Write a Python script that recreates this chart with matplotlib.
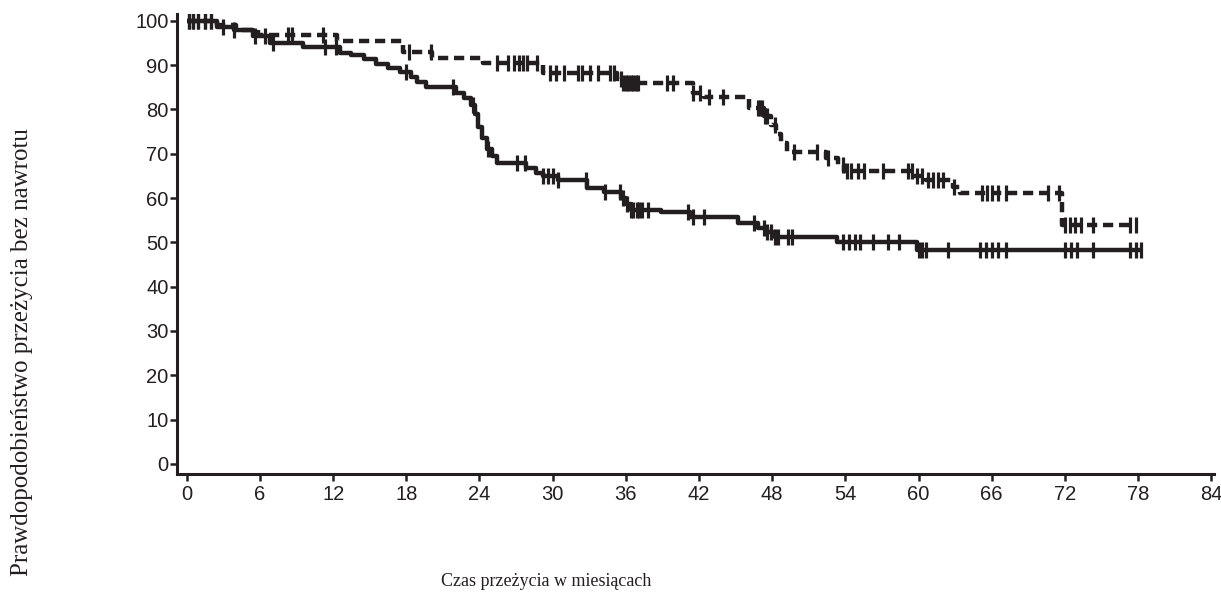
import matplotlib.pyplot as plt
import numpy as np

plt.switch_backend("Agg")

INK = "#231f20"

# Kaplan-Meier steps (months, % relapse-free)
solid_times = [0, 2.5, 3.9, 5.4, 6.8, 9.5, 12.6, 13.5, 14.5, 15.5, 16.5, 17.5,
               18.4, 18.9, 19.6, 22.1, 22.7, 23.3, 23.6, 23.9, 24.2, 24.6, 25.0,
               25.4, 27.8, 28.6, 29.2, 30.4, 32.8, 34.2, 35.6, 36.0, 36.4, 38.9,
               41.3, 45.2, 46.8, 47.6, 48.2, 53.3, 59.9]
solid_surv = [100, 98.6, 98, 96.5, 95, 94.2, 92.8, 92.3, 91.3, 90.3, 89.3, 88.5,
              87.3, 86.3, 85, 83.8, 82.5, 81, 79, 76, 73.5, 71, 69.5, 68, 66.7,
              65.7, 65, 64.1, 62.3, 61.4, 60, 58.7, 57.3, 56.9, 55.7, 54.4, 53.3,
              52.4, 51.2, 50.1, 48.3]
solid_end = 78.2
solid_censor = [0.2, 0.5, 0.9, 1.5, 2.0, 3.0, 3.9, 5.6, 6.4, 7.1, 11.3, 12.2,
                18.0, 21.8, 23.5, 24.7, 27.1, 27.7, 29.2, 29.6, 30.0, 30.4, 32.7,
                34.3, 35.5, 35.8, 36.1, 36.4, 36.6, 36.9, 37.1, 37.3, 37.8, 41.1,
                41.5, 42.4, 46.5, 47.3, 47.6, 47.9, 48.2, 48.5, 49.3, 49.6, 53.8,
                54.3, 54.8, 55.2, 56.3, 57.5, 58.4, 60.0, 60.3, 60.6, 62.4, 65.0,
                65.5, 66.0, 66.5, 67.2, 72.0, 72.5, 73.0, 74.3, 77.3, 77.8, 78.2]

dash_times = [0, 2.5, 4.0, 5.8, 12.3, 17.7, 20.1, 24.3, 29.2, 35.3, 35.8, 41.5,
              42.4, 46.1, 47.3, 47.9, 48.3, 48.7, 49.2, 52.4, 53.4, 53.9, 59.6,
              60.6, 62.8, 63.4, 71.8]
dash_surv = [100, 99, 98, 96.8, 95.5, 93, 91.6, 90.6, 88.2, 86.8, 86, 83.7,
             82.8, 80.4, 78.5, 76.5, 74.5, 72.5, 70.5, 69, 67.5, 66, 65, 64,
             62.5, 61.2, 54]
dash_end = 78.0
dash_censor = [0.2, 0.5, 0.9, 1.5, 2.0, 8.3, 8.6, 11.2, 18.2, 20.0, 25.4, 26.3,
               26.8, 27.2, 27.6, 27.9, 28.7, 29.8, 30.3, 30.9, 32.1, 32.4, 33.1,
               33.7, 34.7, 35.0, 35.6, 35.8, 36.0, 36.2, 36.4, 36.6, 36.8, 37.0,
               39.4, 39.9, 41.5, 42.1, 42.8, 44.0, 46.8, 47.0, 47.2, 47.4, 47.6,
               48.2, 49.8, 51.7, 52.6, 53.8, 54.1, 54.5, 55.0, 55.5, 57.1, 59.1,
               59.5, 59.9, 60.3, 60.8, 61.2, 61.6, 62.0, 62.9, 65.2, 65.6, 66.0,
               66.5, 67.2, 70.6, 71.5, 72.0, 72.4, 72.8, 73.3, 74.3, 77.3, 77.8]

x_ticks = list(range(0, 85, 6))
y_ticks = list(range(0, 101, 10))


def km_curve(ax, times, surv, end, censor, dashed):
    t = np.append(times, end)
    s = np.append(surv, surv[-1])
    line, = ax.plot(t, s, drawstyle="steps-post", color=INK, lw=3.2,
                    solid_capstyle="butt")
    if dashed:
        line.set_dashes([2.3, 1.3])
    c = np.asarray(censor)
    idx = np.searchsorted(t, c, side="right") - 1
    ax.plot(c, s[idx], ls="none", marker="|", ms=11, mew=2.3, color=INK)


fig = plt.figure(figsize=(12.21, 6.0), dpi=100)
ax = fig.add_axes([0.145, 0.21, 0.849, 0.767])

km_curve(ax, dash_times, dash_surv, dash_end, dash_censor, True)
km_curve(ax, solid_times, solid_surv, solid_end, solid_censor, False)

ax.set_xlim(-0.8, 84.2)
ax.set_ylim(-2.3, 101.6)
ax.set_xticks(x_ticks)
ax.set_yticks(y_ticks)
for sp in ["top", "right"]:
    ax.spines[sp].set_visible(False)
for sp in ["left", "bottom"]:
    ax.spines[sp].set_linewidth(2.2)
    ax.spines[sp].set_color(INK)
ax.tick_params(direction="out", length=5, width=1.8, color=INK,
               labelsize=14.5, labelcolor=INK, pad=3)
ax.tick_params(axis="y", pad=1)
for lab in ax.get_xticklabels() + ax.get_yticklabels():
    lab.set_family("Liberation Sans")

fig.text(0.018, 0.413, "Prawdopodobieństwo przeżycia bez nawrotu",
         rotation=90, ha="center", va="center", family="Liberation Serif",
         fontsize=18, color=INK)
fig.text(0.447, 0.03, "Czas przeżycia w miesiącach", ha="center",
         va="center", family="Liberation Serif", fontsize=13, color=INK)

fig.savefig("out.png", dpi=100)
